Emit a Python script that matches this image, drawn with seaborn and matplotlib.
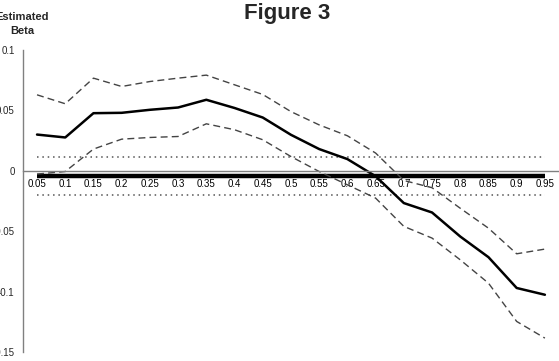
import numpy as np
import pandas as pd
import matplotlib
matplotlib.use("Agg")
import matplotlib.pyplot as plt
import seaborn as sns

# --- data ---
quantiles = [0.05, 0.1, 0.15, 0.2, 0.25, 0.3, 0.35, 0.4, 0.45, 0.5,
             0.55, 0.6, 0.65, 0.7, 0.75, 0.8, 0.85, 0.9, 0.95]
tick_labels = ["0.05", "0.1", "0.15", "0.2", "0.25", "0.3", "0.35", "0.4", "0.45", "0.5",
               "0.55", "0.6", "0.65", "0.7", "0.75", "0.8", "0.85", "0.9", "0.95"]
beta = [0.030, 0.0276, 0.0477, 0.048, 0.0505, 0.0524, 0.0588, 0.052, 0.0441, 0.0298,
        0.018, 0.0097, -0.0045, -0.0267, -0.0345, -0.0544, -0.0715, -0.097, -0.1026]
upper = [0.0629, 0.0555, 0.0767, 0.0698, 0.0739, 0.0767, 0.0792, 0.0712, 0.0632, 0.049,
         0.038, 0.029, 0.0147, -0.008, -0.014, -0.031, -0.0475, -0.0687, -0.0648]
lower = [-0.0027, -0.0006, 0.018, 0.0262, 0.0276, 0.0284, 0.0389, 0.034, 0.0257, 0.0118,
         -0.0006, -0.0116, -0.0226, -0.046, -0.0557, -0.0737, -0.093, -0.1247, -0.1385]
ols_beta = -0.004          # thick reference line
ols_band = [0.0115, -0.020]  # dotted band

y_ticks = [0.1, 0.05, 0, -0.05, -0.1, -0.15]
y_tick_labels = ["0.1", "0.05", "0", "-0.05", "-0.1", "-0.15"]

df = pd.DataFrame({"q": quantiles, "beta": beta, "upper": upper, "lower": lower})

# --- plot ---
sns.set_style("white")
plt.rcParams["font.family"] = ["Liberation Sans", "DejaVu Sans"]

fig = plt.figure(figsize=(5.59, 3.61), dpi=100)
ax = fig.add_axes([0.041, 0.0249, 0.959, 0.8366])

grey = "#808080"
n = len(quantiles)
sns.lineplot(x=quantiles, y=[ols_beta] * n, ax=ax, color="black", linewidth=3.2,
             solid_capstyle="butt")
for lvl in ols_band:
    sns.lineplot(x=quantiles, y=[lvl] * n, ax=ax, color="#555555", linewidth=1.1,
                 linestyle=(0, (1, 2.5)))
sns.lineplot(data=df, x="q", y="upper", ax=ax, color="#444444", linewidth=1.0,
             linestyle=(0, (5, 3)))
sns.lineplot(data=df, x="q", y="lower", ax=ax, color="#444444", linewidth=1.0,
             linestyle=(0, (5, 3)))
sns.lineplot(data=df, x="q", y="beta", ax=ax, color="black", linewidth=1.8)

ax.set_xlim(0.025, 0.975)
ax.set_ylim(-0.15, 0.1)

for s in ["top", "right"]:
    ax.spines[s].set_visible(False)
ax.spines["bottom"].set_position(("data", 0))
ax.spines["bottom"].set_color(grey)
ax.spines["left"].set_color(grey)
ax.spines["bottom"].set_linewidth(1.0)
ax.spines["left"].set_linewidth(1.0)

ax.set_xticks(quantiles)
ax.set_xticklabels(tick_labels)
ax.set_xticks(np.arange(0.075, 0.975, 0.05), minor=True)
ax.tick_params(axis="x", which="major", length=0, pad=6, labelsize=7, colors="black")
ax.tick_params(axis="x", which="minor", length=3, direction="in", color=grey, width=1)

ax.set_yticks(y_ticks)
ax.set_yticklabels(y_tick_labels)
ax.tick_params(axis="y", length=4, direction="out", color=grey, width=1, labelsize=7, pad=2)

ax.set_xlabel("")
ax.set_ylabel("")

fig.text(287 / 559, 1 - 13 / 361, "Figure 3", ha="center", va="center",
         fontsize=16, fontweight="bold")
fig.text(22 / 559, 1 - 17 / 361, "Estimated", ha="center", va="center",
         fontsize=8, fontweight="bold")
fig.text(22 / 559, 1 - 31 / 361, "Beta", ha="center", va="center",
         fontsize=8, fontweight="bold")

fig.savefig("out.png", dpi=100)
